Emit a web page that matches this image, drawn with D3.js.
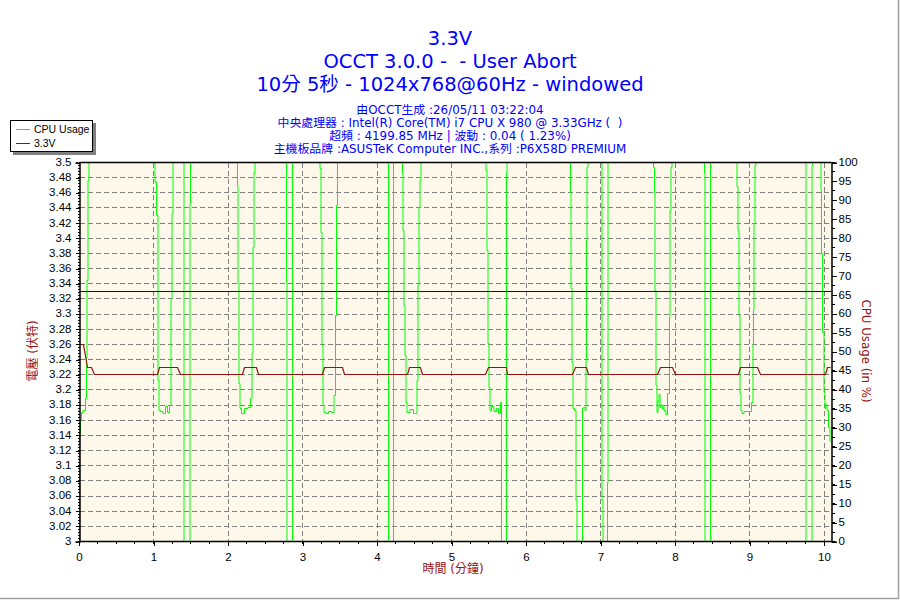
<!DOCTYPE html>
<html><head><meta charset="utf-8">
<script src="https://cdn.jsdelivr.net/npm/d3@7"></script>
<style>
html,body{margin:0;padding:0;background:#fff}
svg{display:block}
text{font-family:"DejaVu Sans","Noto Sans CJK TC",sans-serif}
</style></head><body><svg id="c" width="900" height="600"></svg>
<script>
const titleLines = ["3.3V","OCCT 3.0.0 -  - User Abort","10分 5秒 - 1024x768@60Hz - windowed"];
const infoLines = ["由OCCT生成 :26/05/11 03:22:04","中央處理器 : Intel(R) Core(TM) i7 CPU X 980 @ 3.33GHz (  )","超頻 : 4199.85 MHz | 波動 : 0.04 ( 1.23%)","主機板品牌 :ASUSTeK Computer INC.,系列 :P6X58D PREMIUM"];
const xTicks = [0,1,2,3,4,5,6,7,8,9,10];
const voltTicks = [3,3.02,3.04,3.06,3.08,3.1,3.12,3.14,3.16,3.18,3.2,3.22,3.24,3.26,3.28,3.3,3.32,3.34,3.36,3.38,3.4,3.42,3.44,3.46,3.48,3.5];
const usageTicks = [0,5,10,15,20,25,30,35,40,45,50,55,60,65,70,75,80,85,90,95,100];
const nominal = 3.33;
const voltTime = [0,0.067,0.117,0.17,0.205,1.051,1.078,1.319,1.356,2.197,2.228,2.385,2.416,3.262,3.293,3.534,3.561,4.403,4.434,4.581,4.613,5.463,5.494,5.732,5.754,6.627,6.658,6.815,6.842,7.762,7.808,7.964,8.004,8.85,8.882,9.105,9.15,10.017,10.05,10.081];
const voltValue = [3.26,3.26,3.23,3.23,3.22,3.22,3.23,3.23,3.22,3.22,3.23,3.23,3.22,3.22,3.23,3.23,3.22,3.22,3.23,3.23,3.22,3.22,3.23,3.23,3.22,3.22,3.23,3.23,3.22,3.22,3.23,3.23,3.22,3.22,3.23,3.23,3.22,3.22,3.23,3.23];
const usageTime = [0,.007,.013,.027,.04,.074,.094,.107,.114,.128,.141,
1.02,1.027,1.047,1.064,1.078,1.114,1.141,1.177,1.208,1.228,1.235,1.258,1.266,1.409,1.416,1.483,1.49,1.497,
2.125,2.128,2.138,2.152,2.165,2.201,2.251,2.295,2.309,2.326,2.34,2.353,2.366,2.779,2.785,2.796,2.863,2.87,
3.226,3.248,3.252,3.266,3.285,3.302,3.342,3.369,3.41,3.427,3.45,3.463,3.481,4.148,4.154,4.222,4.228,
4.34,4.346,4.353,4.367,4.383,4.399,4.416,4.47,4.51,4.533,4.541,4.555,4.568,4.581,4.6,
5.463,5.47,5.481,5.494,5.508,5.526,5.553,5.584,5.62,5.651,5.665,5.671,5.736,5.742,5.749,
6.595,6.602,6.608,6.627,6.635,6.671,6.675,6.688,6.756,6.757,6.779,6.802,6.806,6.81,6.823,6.836,
7.02,7.029,7.043,7.091,7.093,7.105,
7.696,7.723,7.725,7.736,7.755,7.768,7.781,7.79,7.799,7.816,7.83,7.843,7.862,7.897,7.906,7.924,7.93,7.943,7.957,7.97,
8.394,8.401,8.407,8.474,8.481,
8.828,8.836,8.85,8.863,8.877,8.896,8.909,8.94,9.017,9.034,9.047,9.056,9.064,9.077,9.091,
9.756,9.763,9.83,9.839,9.846,
9.956,9.964,9.973,9.987,10,10.014,10.027,10.037,10.05,10.068,10.081,10.088];
const usageValue = [0,13.5,28.5,31.9,34,34.6,37.7,48.3,68.9,95.3,100,
100,94.7,86,42.5,34.6,34.3,33.8,35.6,34.1,35.9,64.1,86.5,100,100,0,0,89.2,100,
100,93.9,68.1,41.7,35.1,33.9,35.1,35.4,37.7,49.6,77.6,97.4,100,100,68.3,0,0,100,
100,98.4,81.5,51.7,35.9,34,33.8,34.3,34,38.5,59.6,88.7,100,100,0,0,100,
100,97.1,82.1,62.3,49.1,36.7,34.1,34.8,33.9,33.8,42.5,67.5,88.1,95.3,100,
100,97.9,76.8,52.2,40.6,34.6,35.6,34.3,35.1,33.9,36.7,0,0,97.4,100,
100,92.1,66.8,47.2,35.1,34.6,10.8,0,0,35.1,35.4,34.6,47.8,79.4,98.7,100,
100,10.8,0,0,15.6,100,
100,98.7,91.8,66.2,41.2,34,37.2,38.8,35.4,36.1,35.1,35.9,34.6,33.5,39.1,39.1,59.1,87.3,98.7,100,
100,97.1,0,0,100,
100,93.7,82.1,59.6,39.1,34.6,33.9,34.4,34.4,36.7,52.2,60.9,83.9,99.2,100,
100,0,0,99.2,100,
100,92.6,76,55.1,39.3,35.1,36.1,35.9,34.6,30.1,26.4,26.4];

const L=79.5,R=831.5,T=162.5,B=541.5;
const x=d3.scaleLinear().domain([0,10]).range([79,824]);
const yV=d3.scaleLinear().domain([3,3.5]).range([B,T]);
const yU=d3.scaleLinear().domain([0,100]).range([B,T]);
const svg=d3.select("#c");
const BLUE="#0000ff",RED="#991111",GREEN="#00ff00",GRID="#808080";
const snap=v=>Math.floor(v)+.5;

svg.append("g").selectAll("text").data(titleLines).join("text")
 .attr("x",450).attr("y",(d,i)=>45+i*23).attr("text-anchor","middle")
 .attr("font-size",19.5).attr("fill",BLUE).style("white-space","pre").text(d=>d);
svg.append("g").selectAll("text").data(infoLines).join("text")
 .attr("x",450).attr("y",(d,i)=>113.5+i*13.2).attr("text-anchor","middle")
 .attr("font-size",11.9).attr("fill",BLUE).style("white-space","pre").text(d=>d);

svg.append("rect").attr("x",L).attr("y",T).attr("width",R-L).attr("height",B-T).attr("fill","#fdf8ea");
const grid=svg.append("g").attr("stroke",GRID).attr("stroke-dasharray","5,3").attr("fill","none").attr("shape-rendering","crispEdges");
grid.selectAll(".h").data(voltTicks.slice(1,-1)).join("line").attr("x1",L).attr("x2",R).attr("y1",d=>snap(yV(d))).attr("y2",d=>snap(yV(d)));
grid.selectAll(".v").data(xTicks.slice(1)).join("line").attr("y1",T).attr("y2",B).attr("x1",d=>snap(x(d))).attr("x2",d=>snap(x(d)));

svg.append("clipPath").attr("id","p").append("rect").attr("x",L-1).attr("y",T).attr("width",R-L+1).attr("height",B-T);
const plot=svg.append("g").attr("clip-path","url(#p)").attr("fill","none");
plot.append("path").datum(d3.zip(usageTime,usageValue)).attr("stroke",GREEN).attr("stroke-width",1)
 .attr("d",d3.line().curve(d3.curveStep).x(d=>snap(x(d[0]))).y(d=>snap(yU(d[1]))));
plot.append("line").attr("x1",L).attr("x2",R).attr("y1",snap(yV(nominal))).attr("y2",snap(yV(nominal))).attr("stroke","#0000c0").attr("stroke-width",1);
plot.append("path").datum(d3.zip(voltTime,voltValue)).attr("stroke",RED).attr("stroke-width",1.2)
 .attr("d",d3.line().x(d=>snap(x(d[0]))).y(d=>snap(yV(d[1]))));

const minorV=d3.range(0,125).map(i=>3+i*0.004);
const gl=svg.append("g").attr("transform",`translate(${L},0)`)
 .call(d3.axisLeft(yV).tickValues(voltTicks).tickFormat(d=>d3.format("~g")(d)).tickSize(4).tickPadding(4));
gl.selectAll("line.m").data(minorV).join("line").attr("class","m").attr("x1",-2).attr("x2",0).attr("y1",d=>yV(d)).attr("y2",d=>yV(d)).attr("stroke","#000");
const gb=svg.append("g").attr("transform",`translate(0,${B})`)
 .call(d3.axisBottom(x).tickValues(xTicks).tickSize(4).tickPadding(7));
gb.selectAll("line.m").data(d3.range(0,41).map(i=>i/4)).join("line").attr("class","m").attr("y1",0).attr("y2",2).attr("x1",d=>x(d)).attr("x2",d=>x(d)).attr("stroke","#000");
const gr=svg.append("g").attr("transform",`translate(${R},0)`)
 .call(d3.axisRight(yU).tickValues(usageTicks).tickSize(5).tickPadding(2));
gr.selectAll("line.m").data(d3.range(0,41).map(i=>i*2.5)).join("line").attr("class","m").attr("x1",0).attr("x2",3).attr("y1",d=>yU(d)).attr("y2",d=>yU(d)).attr("stroke","#000");
for(const g of [gl,gb,gr]){g.selectAll("text").attr("font-size",11.5).attr("fill","#000").style("font-family","'Liberation Sans'");g.selectAll("line").attr("stroke","#000").attr("shape-rendering","crispEdges");g.select(".domain").attr("stroke","#000").attr("stroke-width",1.5);}
gl.selectAll(".tick text").attr("dy","0.25em");
gr.selectAll(".tick text").attr("dy","0.25em");
gb.select(".domain").attr("d",`M${L},0H${R}`);
svg.append("line").attr("x1",L).attr("x2",R).attr("y1",T).attr("y2",T).attr("stroke","#000").attr("stroke-width",1.5);

svg.append("text").attr("transform","translate(37,351) rotate(-90)").attr("text-anchor","middle").attr("font-size",12).attr("fill",RED).text("電壓 (伏特)");
svg.append("text").attr("transform","translate(862,351) rotate(90)").attr("text-anchor","middle").attr("font-size",11.8).attr("fill",RED).text("CPU Usage (in %)");
svg.append("text").attr("x",453).attr("y",573).attr("text-anchor","middle").attr("font-size",12).attr("fill",RED).text("時間 (分鐘)");

const lg=svg.append("g");
lg.append("rect").attr("x",13).attr("y",123).attr("width",83).attr("height",32).attr("fill","#808080");
lg.append("rect").attr("x",10.5).attr("y",120.5).attr("width",82).attr("height",31).attr("fill","#fff").attr("stroke","#000");
const legendNames=["CPU Usage","3.3V"],legendColors=[GREEN,RED];
legendNames.forEach((n,i)=>{const yy=129.5+i*14;
 lg.append("line").attr("x1",16).attr("x2",30).attr("y1",yy).attr("y2",yy).attr("stroke",legendColors[i]).attr("stroke-width",1);
 lg.append("text").attr("x",34).attr("y",yy+3.5).attr("font-size",10.5).style("font-family","'Liberation Sans'").text(n);});
svg.append("path").attr("d","M0,598.5H898.5V0").attr("fill","none").attr("stroke","#a0a0a0").attr("stroke-width",1.5);
</script></body></html>
